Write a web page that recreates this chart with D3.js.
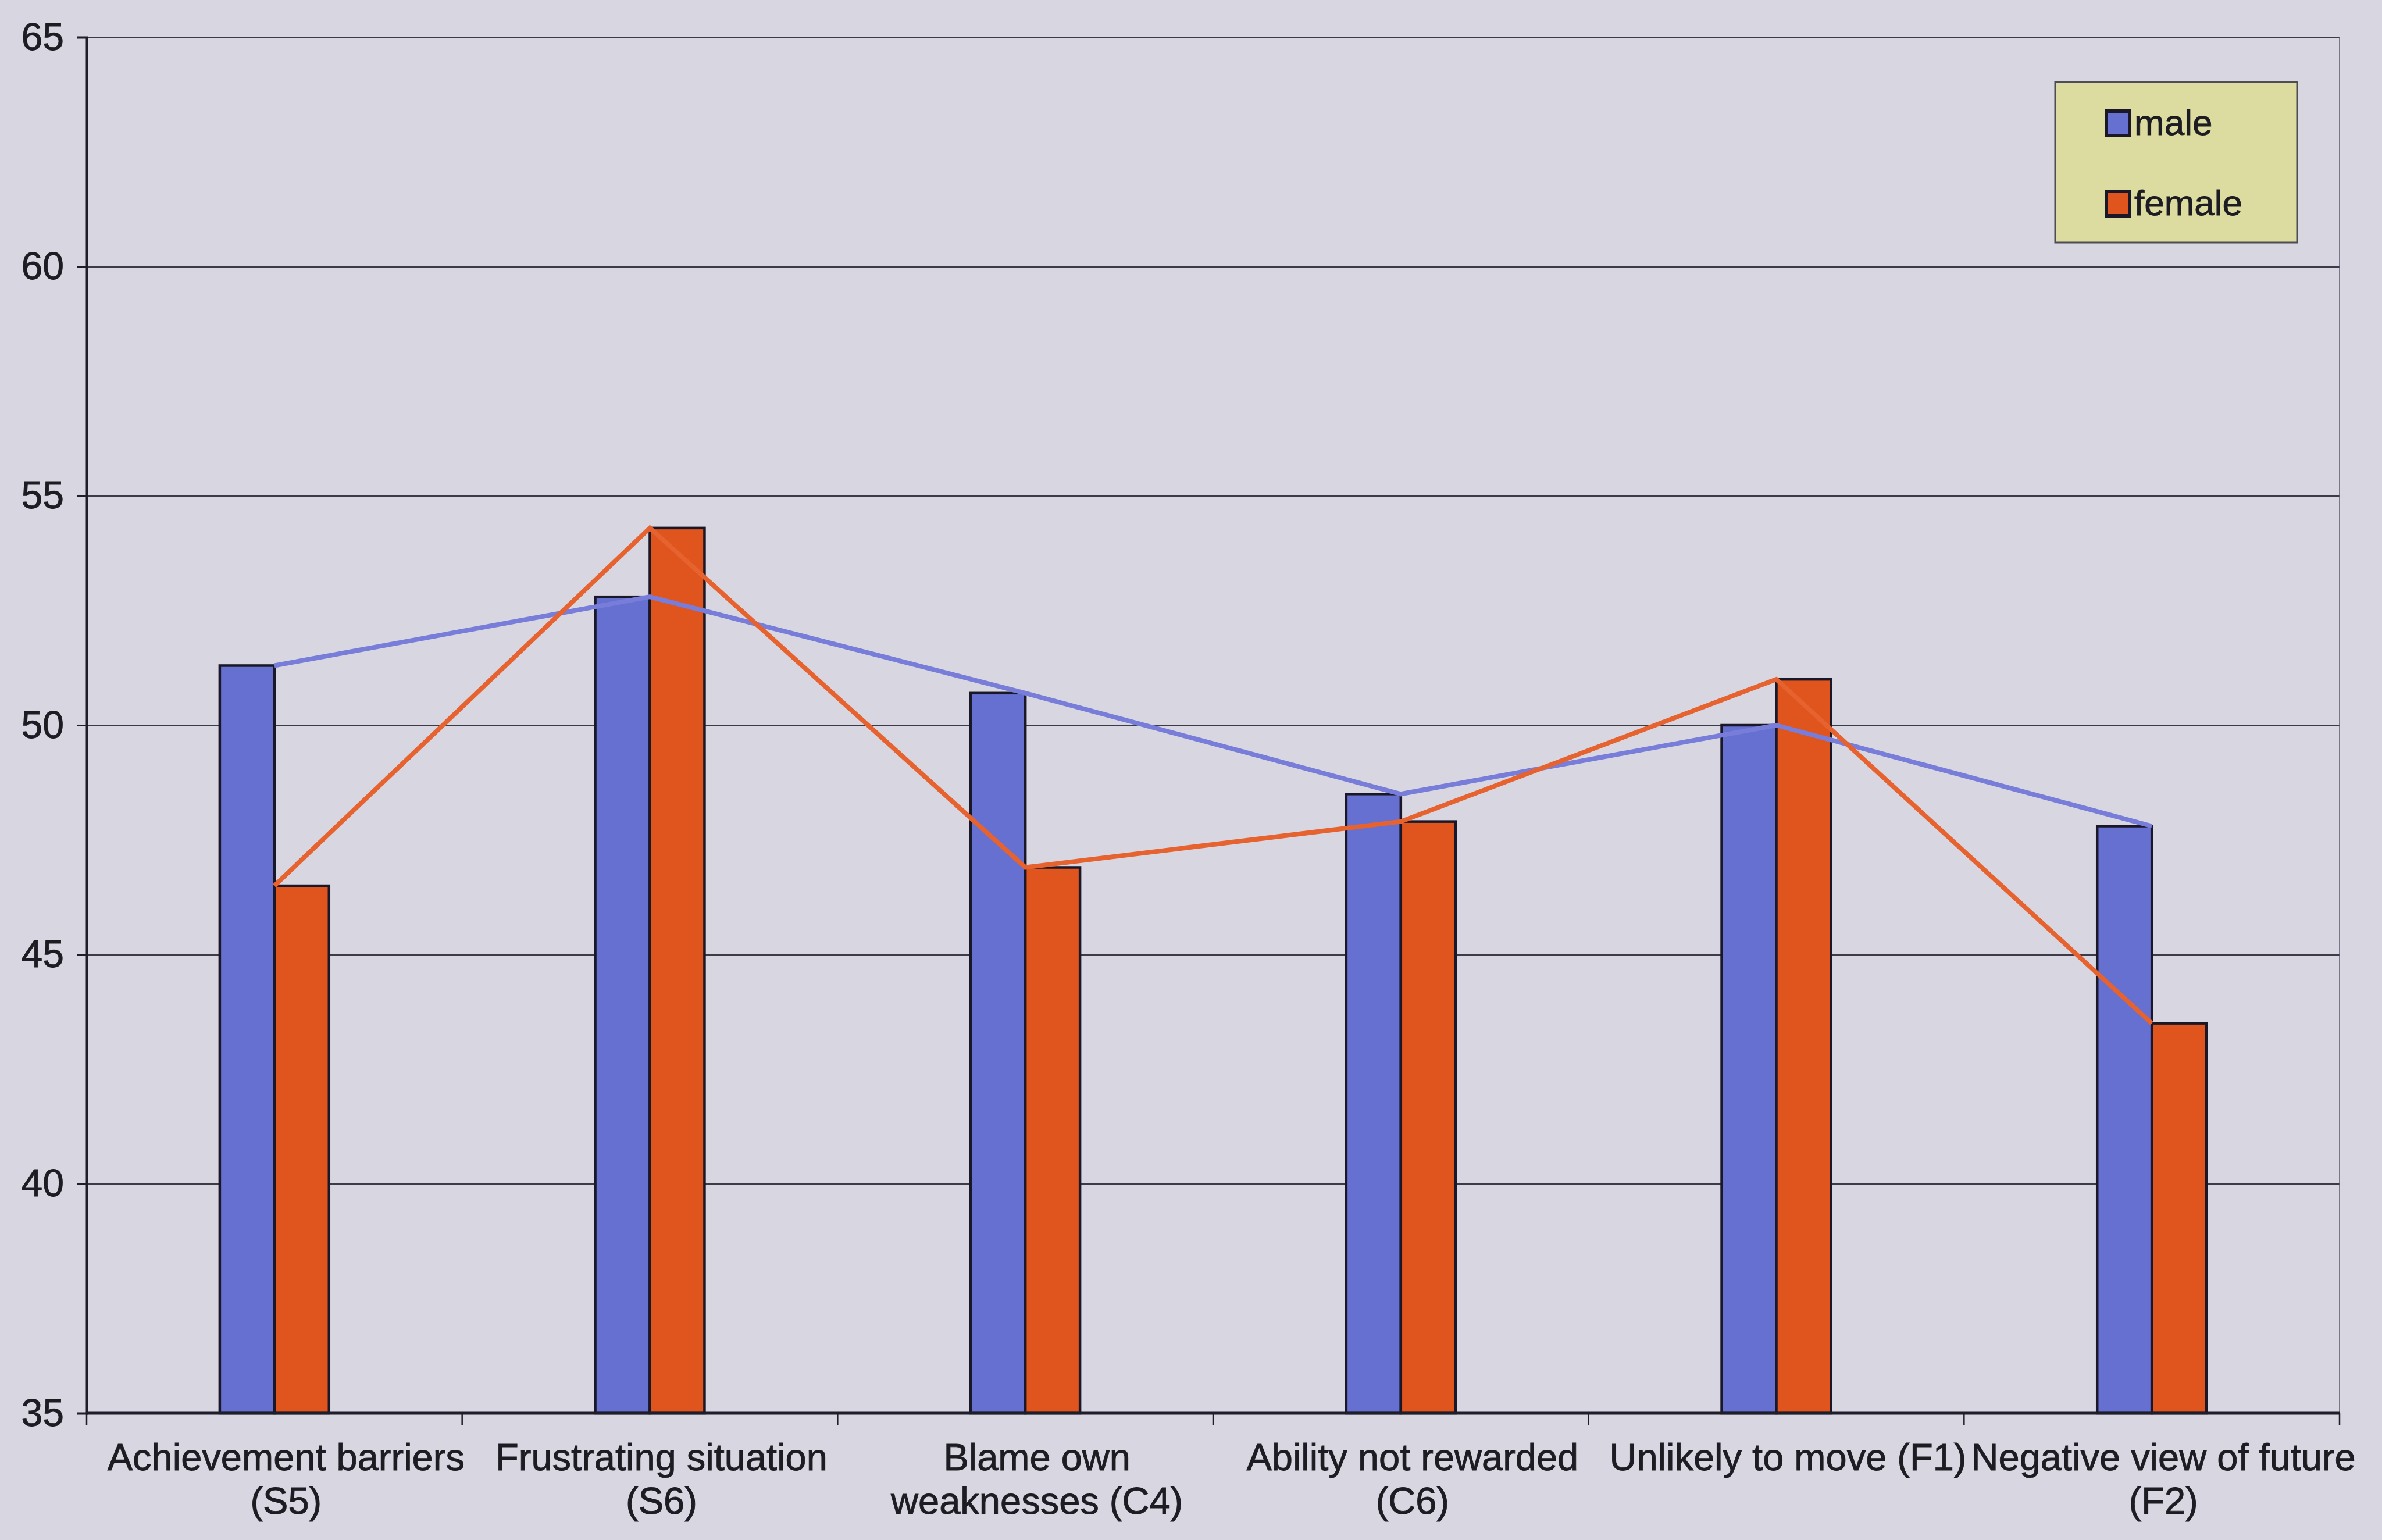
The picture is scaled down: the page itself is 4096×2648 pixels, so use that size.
<!DOCTYPE html>
<html lang="en">
<head>
  <meta charset="UTF-8">
  <title>Male and female scores by scale</title>
  <style>
    html, body {
      margin: 0;
      padding: 0;
      background-color: #d8d6e1;
    }
    svg {
      display: block;
      font-family: "Liberation Sans", Arial, sans-serif;
    }
    text {
      stroke: #1c1c22;
      stroke-width: 0.9px;
    }
  </style>
</head>
<body>
<div id="chart"></div>
<script src="https://d3js.org/d3.v7.min.js"></script>
<script>
  // data
  const categories = ["S5", "S6", "C4", "C6", "F1", "F2"];
  const categoryLabels = [
    ["Achievement barriers", "(S5)"],
    ["Frustrating situation", "(S6)"],
    ["Blame own", "weaknesses (C4)"],
    ["Ability not rewarded", "(C6)"],
    ["Unlikely to move (F1)"],
    ["Negative view of future", "(F2)"]
  ];
  const seriesNames = ["male", "female"];
  const maleValues = [51.3, 52.8, 50.7, 48.5, 50.0, 47.8];
  const femaleValues = [46.5, 54.3, 46.9, 47.9, 51.0, 43.5];
  const yTicks = [35, 40, 45, 50, 55, 60, 65];

  const barColors = { male: "#6670d0", female: "#e0541d" };
  const lineColors = { male: "#777dd8", female: "#e6622f" };

  const width = 4096;
  const height = 2648;
  const margin = { top: 64, right: 73, bottom: 218, left: 149 };
  const innerW = width - margin.left - margin.right;
  const innerH = height - margin.top - margin.bottom;

  const svg = d3.select("#chart").append("svg")
          .attr("width", width)
          .attr("height", height);

  svg.append("rect")
          .attr("width", width)
          .attr("height", height)
          .attr("fill", "#d8d6e1");

  const g = svg.append("g")
          .attr("transform", `translate(${margin.left},${margin.top})`);

  const x0 = d3.scaleBand().domain(categories).range([0, innerW]).padding(0);
  const groupW = x0.bandwidth() * 0.291;
  const x1 = d3.scaleBand().domain(seriesNames).range([0, groupW]);
  const groupOffset = (x0.bandwidth() - groupW) / 2;
  const y = d3.scaleLinear().domain([35, 65]).range([innerH, 0]);

  const rows = categories.map((c, i) => ({ cat: c, male: maleValues[i], female: femaleValues[i] }));

  // horizontal gridlines
  g.append("g")
          .attr("class", "grid")
          .call(d3.axisLeft(y).tickValues(yTicks.slice(1)).tickSize(-innerW).tickFormat(""))
          .call(s => s.select(".domain").remove())
          .call(s => s.selectAll("line").attr("stroke", "#3c3b47").attr("stroke-width", 3));

  // right edge of plot area
  g.append("line")
          .attr("x1", innerW).attr("x2", innerW)
          .attr("y1", 0).attr("y2", innerH)
          .attr("stroke", "#5a5966")
          .attr("stroke-width", 1.5);

  // y axis
  g.append("g")
          .call(d3.axisLeft(y).tickValues(yTicks).tickSize(17).tickPadding(22).tickFormat(d3.format("d")))
          .call(s => s.select(".domain").attr("stroke", "#1e1d2a").attr("stroke-width", 4))
          .call(s => s.selectAll(".tick line").attr("stroke", "#1e1d2a").attr("stroke-width", 3))
          .call(s => s.selectAll(".tick text")
                  .attr("fill", "#1c1c22")
                  .style("font-size", "66px")
                  .style("font-family", "'Liberation Sans', Arial, sans-serif"));

  // bars
  const groups = g.selectAll(".bar-group")
          .data(rows)
          .enter()
          .append("g")
          .attr("class", "bar-group")
          .attr("transform", d => `translate(${x0(d.cat) + groupOffset},0)`);

  groups.selectAll("rect")
          .data(d => seriesNames.map(k => ({ key: k, value: d[k] })))
          .enter()
          .append("rect")
          .attr("x", d => x1(d.key))
          .attr("y", d => y(d.value))
          .attr("width", x1.bandwidth())
          .attr("height", d => innerH - y(d.value))
          .attr("fill", d => barColors[d.key])
          .attr("stroke", "#1a1828")
          .attr("stroke-width", 4.5);

  // x axis line and category boundary ticks
  g.append("line")
          .attr("x1", 0).attr("x2", innerW)
          .attr("y1", innerH).attr("y2", innerH)
          .attr("stroke", "#1e1d2a")
          .attr("stroke-width", 5);

  const boundaries = categories.map(c => x0(c)).concat([innerW]);
  g.selectAll(".xtick")
          .data(boundaries)
          .enter()
          .append("line")
          .attr("class", "xtick")
          .attr("x1", d => d).attr("x2", d => d)
          .attr("y1", innerH).attr("y2", innerH + 20)
          .attr("stroke", "#1e1d2a")
          .attr("stroke-width", 2.5);

  // category labels
  const labels = g.selectAll(".xlabel")
          .data(categories)
          .enter()
          .append("text")
          .attr("class", "xlabel")
          .attr("x", d => x0(d) + x0.bandwidth() / 2 + 20)
          .attr("y", innerH + 98)
          .attr("text-anchor", "middle")
          .attr("fill", "#1c1c22")
          .style("font-size", "65px");

  labels.selectAll("tspan")
          .data((d, i) => categoryLabels[i])
          .enter()
          .append("tspan")
          .attr("x", function() { return d3.select(this.parentNode).attr("x"); })
          .attr("dy", (d, i) => i === 0 ? 0 : 75)
          .text(d => d);

  // connecting lines through the group centres
  const line = d3.line()
          .x(d => x0(d.cat) + x0.bandwidth() / 2)
          .y(d => y(d.value));

  seriesNames.forEach(k => {
    g.append("path")
            .datum(rows.map(r => ({ cat: r.cat, value: r[k] })))
            .attr("d", line)
            .attr("fill", "none")
            .attr("stroke", lineColors[k])
            .attr("stroke-width", 8)
            .attr("stroke-linejoin", "miter");
  });

  // legend
  const legend = svg.append("g").attr("transform", "translate(3534,141)");
  legend.append("rect")
          .attr("width", 416)
          .attr("height", 276)
          .attr("fill", "#dcdca0")
          .attr("stroke", "#4e4d55")
          .attr("stroke-width", 3);

  const items = legend.selectAll(".item")
          .data(seriesNames)
          .enter()
          .append("g")
          .attr("class", "item")
          .attr("transform", (d, i) => `translate(88,${71 + i * 138})`);

  items.append("rect")
          .attr("x", 0)
          .attr("y", -21)
          .attr("width", 40)
          .attr("height", 42)
          .attr("fill", d => barColors[d])
          .attr("stroke", "#1a1828")
          .attr("stroke-width", 6);

  items.append("text")
          .attr("x", 48)
          .attr("y", 20)
          .attr("fill", "#1c1c22")
          .style("font-size", "62px")
          .text(d => d);
</script>
</body>
</html>
